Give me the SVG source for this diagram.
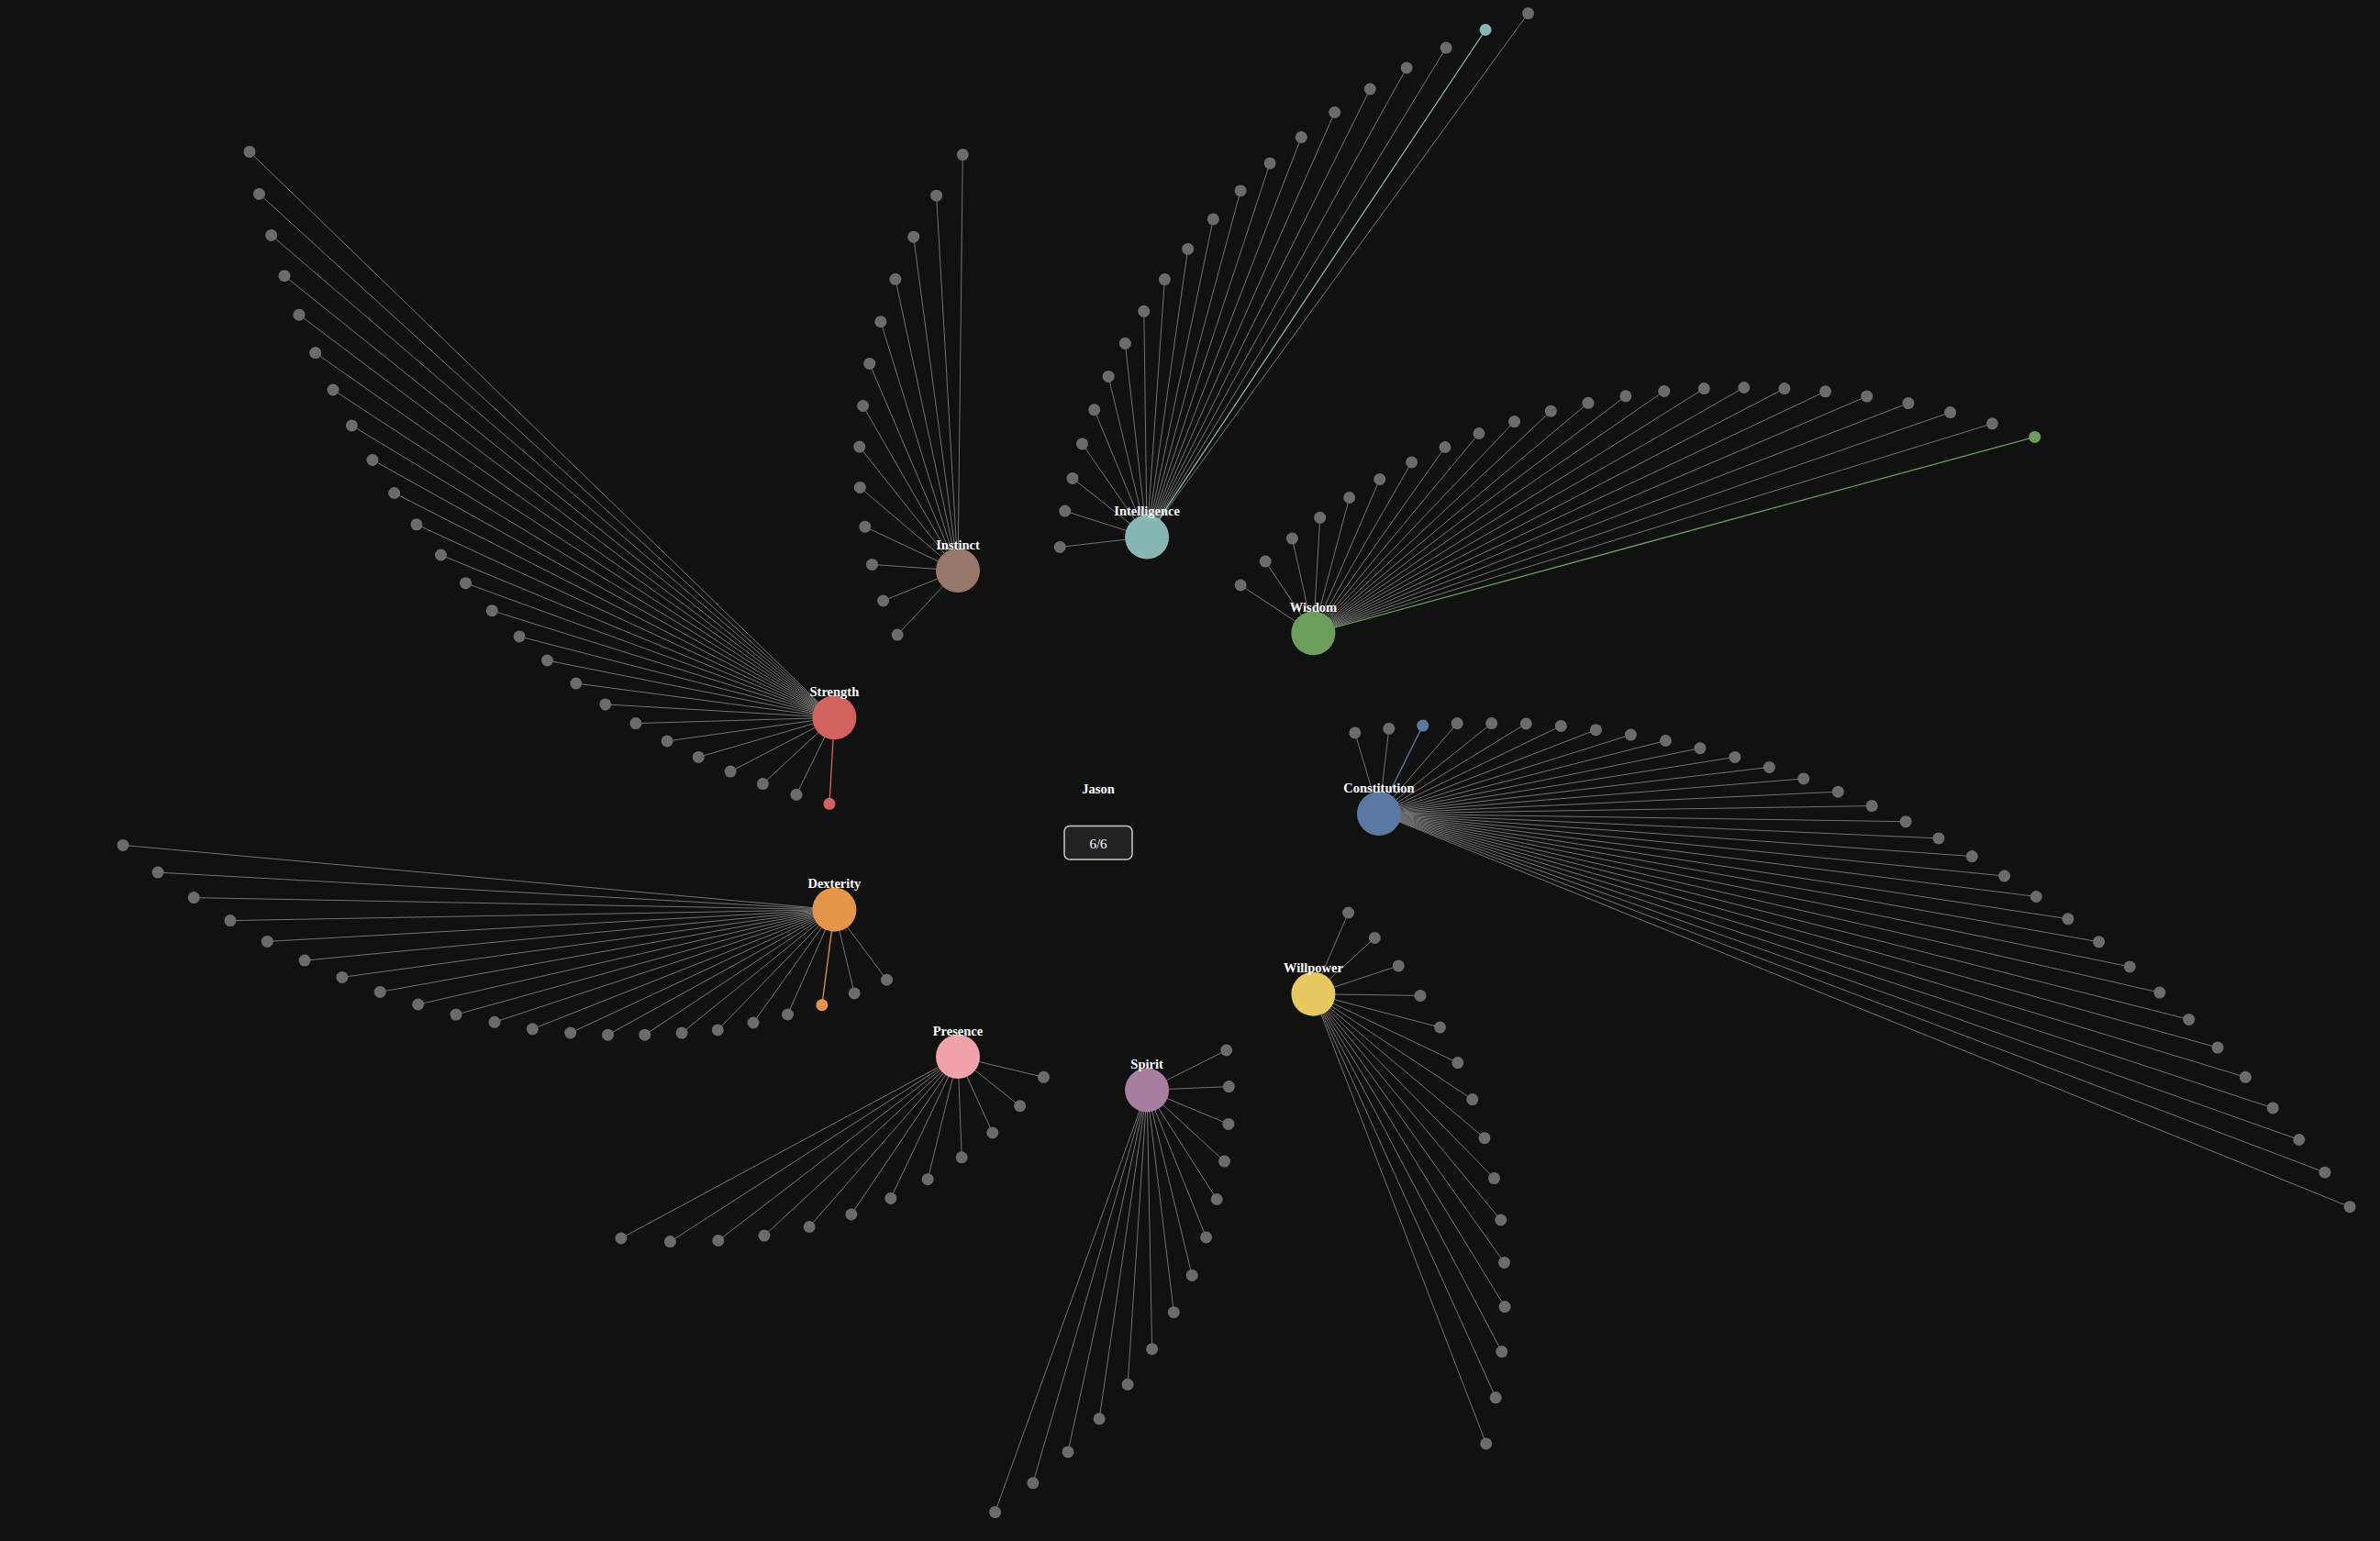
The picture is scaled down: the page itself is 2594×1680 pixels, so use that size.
<svg xmlns="http://www.w3.org/2000/svg" width="2594" height="1680" viewBox="0 0 2594 1680">
<style>
.bg{fill:#111111}
.e{stroke:#747474;stroke-width:1;fill:none}
.leaf{fill:#6b6b6b}
.lbl{font-family:"Liberation Serif","Times New Roman",serif;font-weight:bold;font-size:14.5px;fill:#ffffff;text-anchor:middle}
.cnt{font-family:"Liberation Serif","Times New Roman",serif;font-size:15px;fill:#ffffff;text-anchor:middle}
.box{fill:#222222;stroke:#c8c8c8;stroke-width:1.5}
</style>
<rect class="bg" x="0" y="0" width="2594" height="1680"/>
<g id="connectors">
<line class="e" x1="909.4" y1="782.3" x2="272.0" y2="165.4"/>
<line class="e" x1="909.4" y1="782.3" x2="282.5" y2="211.4"/>
<line class="e" x1="909.4" y1="782.3" x2="295.7" y2="256.4"/>
<line class="e" x1="909.4" y1="782.3" x2="310.0" y2="300.7"/>
<line class="e" x1="909.4" y1="782.3" x2="326.0" y2="343.2"/>
<line class="e" x1="909.4" y1="782.3" x2="343.7" y2="384.6"/>
<line class="e" x1="909.4" y1="782.3" x2="363.0" y2="425.0"/>
<line class="e" x1="909.4" y1="782.3" x2="383.4" y2="463.9"/>
<line class="e" x1="909.4" y1="782.3" x2="406.0" y2="501.4"/>
<line class="e" x1="909.4" y1="782.3" x2="429.7" y2="537.5"/>
<line class="e" x1="909.4" y1="782.3" x2="454.0" y2="571.8"/>
<line class="e" x1="909.4" y1="782.3" x2="480.5" y2="605.0"/>
<line class="e" x1="909.4" y1="782.3" x2="507.5" y2="635.7"/>
<line class="e" x1="909.4" y1="782.3" x2="536.2" y2="665.7"/>
<line class="e" x1="909.4" y1="782.3" x2="566.0" y2="693.9"/>
<line class="e" x1="909.4" y1="782.3" x2="596.4" y2="720.0"/>
<line class="e" x1="909.4" y1="782.3" x2="627.8" y2="745.0"/>
<line class="e" x1="909.4" y1="782.3" x2="659.8" y2="767.9"/>
<line class="e" x1="909.4" y1="782.3" x2="692.9" y2="788.6"/>
<line class="e" x1="909.4" y1="782.3" x2="727.1" y2="807.9"/>
<line class="e" x1="909.4" y1="782.3" x2="761.3" y2="825.4"/>
<line class="e" x1="909.4" y1="782.3" x2="796.1" y2="841.1"/>
<line class="e" x1="909.4" y1="782.3" x2="831.4" y2="854.6"/>
<line class="e" x1="909.4" y1="782.3" x2="868.0" y2="866.3"/>
<line class="e" style="stroke:#d3625f;stroke-width:1.3" x1="909.4" y1="782.3" x2="904.0" y2="876.3"/>
<line class="e" x1="1044" y1="622" x2="1049.3" y2="168.6"/>
<line class="e" x1="1044" y1="622" x2="1020.6" y2="213.2"/>
<line class="e" x1="1044" y1="622" x2="995.7" y2="258.2"/>
<line class="e" x1="1044" y1="622" x2="975.9" y2="304.3"/>
<line class="e" x1="1044" y1="622" x2="959.9" y2="350.7"/>
<line class="e" x1="1044" y1="622" x2="947.7" y2="396.4"/>
<line class="e" x1="1044" y1="622" x2="940.6" y2="442.5"/>
<line class="e" x1="1044" y1="622" x2="936.7" y2="487.1"/>
<line class="e" x1="1044" y1="622" x2="937.3" y2="531.4"/>
<line class="e" x1="1044" y1="622" x2="942.8" y2="574.3"/>
<line class="e" x1="1044" y1="622" x2="950.5" y2="615.4"/>
<line class="e" x1="1044" y1="622" x2="962.6" y2="655.0"/>
<line class="e" x1="1044" y1="622" x2="978.1" y2="692.1"/>
<line class="e" x1="1250.1" y1="585.6" x2="1665.5" y2="14.6"/>
<line class="e" style="stroke:#86b7b3;stroke-width:1.3" x1="1250.1" y1="585.6" x2="1619.1" y2="32.5"/>
<line class="e" x1="1250.1" y1="585.6" x2="1576.1" y2="52.1"/>
<line class="e" x1="1250.1" y1="585.6" x2="1533.1" y2="73.9"/>
<line class="e" x1="1250.1" y1="585.6" x2="1493.3" y2="97.1"/>
<line class="e" x1="1250.1" y1="585.6" x2="1454.7" y2="122.5"/>
<line class="e" x1="1250.1" y1="585.6" x2="1418.3" y2="149.6"/>
<line class="e" x1="1250.1" y1="585.6" x2="1384.1" y2="177.9"/>
<line class="e" x1="1250.1" y1="585.6" x2="1352.1" y2="207.9"/>
<line class="e" x1="1250.1" y1="585.6" x2="1322.3" y2="238.9"/>
<line class="e" x1="1250.1" y1="585.6" x2="1294.7" y2="271.4"/>
<line class="e" x1="1250.1" y1="585.6" x2="1269.4" y2="304.6"/>
<line class="e" x1="1250.1" y1="585.6" x2="1246.8" y2="339.3"/>
<line class="e" x1="1250.1" y1="585.6" x2="1226.3" y2="374.3"/>
<line class="e" x1="1250.1" y1="585.6" x2="1208.1" y2="410.4"/>
<line class="e" x1="1250.1" y1="585.6" x2="1192.7" y2="446.8"/>
<line class="e" x1="1250.1" y1="585.6" x2="1179.5" y2="483.9"/>
<line class="e" x1="1250.1" y1="585.6" x2="1169.0" y2="521.4"/>
<line class="e" x1="1250.1" y1="585.6" x2="1160.7" y2="557.1"/>
<line class="e" x1="1250.1" y1="585.6" x2="1155.2" y2="596.4"/>
<line class="e" x1="1431.4" y1="690.3" x2="1352.1" y2="637.9"/>
<line class="e" x1="1431.4" y1="690.3" x2="1379.2" y2="612.1"/>
<line class="e" x1="1431.4" y1="690.3" x2="1408.4" y2="587.1"/>
<line class="e" x1="1431.4" y1="690.3" x2="1438.7" y2="564.3"/>
<line class="e" x1="1431.4" y1="690.3" x2="1470.7" y2="542.5"/>
<line class="e" x1="1431.4" y1="690.3" x2="1503.8" y2="522.5"/>
<line class="e" x1="1431.4" y1="690.3" x2="1538.6" y2="503.9"/>
<line class="e" x1="1431.4" y1="690.3" x2="1575.0" y2="487.5"/>
<line class="e" x1="1431.4" y1="690.3" x2="1612.0" y2="472.5"/>
<line class="e" x1="1431.4" y1="690.3" x2="1650.6" y2="459.6"/>
<line class="e" x1="1431.4" y1="690.3" x2="1690.3" y2="448.2"/>
<line class="e" x1="1431.4" y1="690.3" x2="1731.0" y2="439.3"/>
<line class="e" x1="1431.4" y1="690.3" x2="1771.9" y2="431.8"/>
<line class="e" x1="1431.4" y1="690.3" x2="1813.8" y2="426.4"/>
<line class="e" x1="1431.4" y1="690.3" x2="1857.3" y2="423.6"/>
<line class="e" x1="1431.4" y1="690.3" x2="1900.8" y2="422.5"/>
<line class="e" x1="1431.4" y1="690.3" x2="1944.9" y2="423.6"/>
<line class="e" x1="1431.4" y1="690.3" x2="1989.5" y2="426.8"/>
<line class="e" x1="1431.4" y1="690.3" x2="2034.7" y2="432.1"/>
<line class="e" x1="1431.4" y1="690.3" x2="2079.9" y2="439.6"/>
<line class="e" x1="1431.4" y1="690.3" x2="2125.6" y2="449.6"/>
<line class="e" x1="1431.4" y1="690.3" x2="2171.4" y2="461.8"/>
<line class="e" style="stroke:#6a9e5a;stroke-width:1.3" x1="1431.4" y1="690.3" x2="2217.7" y2="476.4"/>
<line class="e" x1="1503" y1="887" x2="1476.8" y2="798.9"/>
<line class="e" x1="1503" y1="887" x2="1513.8" y2="794.3"/>
<line class="e" style="stroke:#5a78a2;stroke-width:1.3" x1="1503" y1="887" x2="1550.7" y2="791.1"/>
<line class="e" x1="1503" y1="887" x2="1588.2" y2="788.6"/>
<line class="e" x1="1503" y1="887" x2="1625.7" y2="788.6"/>
<line class="e" x1="1503" y1="887" x2="1663.3" y2="788.9"/>
<line class="e" x1="1503" y1="887" x2="1701.3" y2="791.4"/>
<line class="e" x1="1503" y1="887" x2="1739.4" y2="795.7"/>
<line class="e" x1="1503" y1="887" x2="1777.4" y2="801.1"/>
<line class="e" x1="1503" y1="887" x2="1815.4" y2="807.5"/>
<line class="e" x1="1503" y1="887" x2="1852.9" y2="815.7"/>
<line class="e" x1="1503" y1="887" x2="1890.9" y2="825.4"/>
<line class="e" x1="1503" y1="887" x2="1928.4" y2="836.4"/>
<line class="e" x1="1503" y1="887" x2="1965.8" y2="848.9"/>
<line class="e" x1="1503" y1="887" x2="2003.3" y2="863.2"/>
<line class="e" x1="1503" y1="887" x2="2040.2" y2="878.6"/>
<line class="e" x1="1503" y1="887" x2="2077.1" y2="895.7"/>
<line class="e" x1="1503" y1="887" x2="2113.0" y2="913.9"/>
<line class="e" x1="1503" y1="887" x2="2149.3" y2="933.6"/>
<line class="e" x1="1503" y1="887" x2="2184.6" y2="955.0"/>
<line class="e" x1="1503" y1="887" x2="2219.3" y2="977.5"/>
<line class="e" x1="1503" y1="887" x2="2254.0" y2="1001.8"/>
<line class="e" x1="1503" y1="887" x2="2287.6" y2="1026.8"/>
<line class="e" x1="1503" y1="887" x2="2321.3" y2="1053.9"/>
<line class="e" x1="1503" y1="887" x2="2353.8" y2="1082.1"/>
<line class="e" x1="1503" y1="887" x2="2385.7" y2="1111.4"/>
<line class="e" x1="1503" y1="887" x2="2417.1" y2="1142.1"/>
<line class="e" x1="1503" y1="887" x2="2447.4" y2="1174.3"/>
<line class="e" x1="1503" y1="887" x2="2477.2" y2="1207.9"/>
<line class="e" x1="1503" y1="887" x2="2505.8" y2="1242.5"/>
<line class="e" x1="1503" y1="887" x2="2534.0" y2="1278.2"/>
<line class="e" x1="1503" y1="887" x2="2561.0" y2="1315.7"/>
<line class="e" x1="909.4" y1="991.7" x2="134.1" y2="921.4"/>
<line class="e" x1="909.4" y1="991.7" x2="172.1" y2="951.1"/>
<line class="e" x1="909.4" y1="991.7" x2="211.3" y2="978.6"/>
<line class="e" x1="909.4" y1="991.7" x2="251.0" y2="1003.6"/>
<line class="e" x1="909.4" y1="991.7" x2="291.3" y2="1026.4"/>
<line class="e" x1="909.4" y1="991.7" x2="332.1" y2="1047.1"/>
<line class="e" x1="909.4" y1="991.7" x2="372.9" y2="1065.4"/>
<line class="e" x1="909.4" y1="991.7" x2="414.3" y2="1081.4"/>
<line class="e" x1="909.4" y1="991.7" x2="455.7" y2="1095.0"/>
<line class="e" x1="909.4" y1="991.7" x2="497.1" y2="1106.1"/>
<line class="e" x1="909.4" y1="991.7" x2="539.0" y2="1114.3"/>
<line class="e" x1="909.4" y1="991.7" x2="580.4" y2="1121.8"/>
<line class="e" x1="909.4" y1="991.7" x2="621.7" y2="1126.1"/>
<line class="e" x1="909.4" y1="991.7" x2="662.5" y2="1128.2"/>
<line class="e" x1="909.4" y1="991.7" x2="702.8" y2="1128.2"/>
<line class="e" x1="909.4" y1="991.7" x2="743.1" y2="1126.1"/>
<line class="e" x1="909.4" y1="991.7" x2="782.3" y2="1122.9"/>
<line class="e" x1="909.4" y1="991.7" x2="821.0" y2="1115.0"/>
<line class="e" x1="909.4" y1="991.7" x2="858.5" y2="1106.0"/>
<line class="e" style="stroke:#e5954a;stroke-width:1.3" x1="909.4" y1="991.7" x2="895.9" y2="1095.7"/>
<line class="e" x1="909.4" y1="991.7" x2="931.2" y2="1082.9"/>
<line class="e" x1="909.4" y1="991.7" x2="966.5" y2="1068.2"/>
<line class="e" x1="1044" y1="1152" x2="1137.5" y2="1174.3"/>
<line class="e" x1="1044" y1="1152" x2="1111.6" y2="1205.7"/>
<line class="e" x1="1044" y1="1152" x2="1081.8" y2="1235.0"/>
<line class="e" x1="1044" y1="1152" x2="1048.2" y2="1261.8"/>
<line class="e" x1="1044" y1="1152" x2="1011.2" y2="1285.7"/>
<line class="e" x1="1044" y1="1152" x2="970.9" y2="1306.4"/>
<line class="e" x1="1044" y1="1152" x2="927.9" y2="1323.9"/>
<line class="e" x1="1044" y1="1152" x2="882.1" y2="1337.5"/>
<line class="e" x1="1044" y1="1152" x2="833.0" y2="1347.1"/>
<line class="e" x1="1044" y1="1152" x2="782.8" y2="1352.5"/>
<line class="e" x1="1044" y1="1152" x2="730.4" y2="1353.6"/>
<line class="e" x1="1044" y1="1152" x2="676.9" y2="1350.0"/>
<line class="e" x1="1250.1" y1="1188.4" x2="1336.7" y2="1145.0"/>
<line class="e" x1="1250.1" y1="1188.4" x2="1339.4" y2="1184.6"/>
<line class="e" x1="1250.1" y1="1188.4" x2="1338.9" y2="1225.4"/>
<line class="e" x1="1250.1" y1="1188.4" x2="1334.5" y2="1266.1"/>
<line class="e" x1="1250.1" y1="1188.4" x2="1326.2" y2="1307.5"/>
<line class="e" x1="1250.1" y1="1188.4" x2="1314.6" y2="1348.9"/>
<line class="e" x1="1250.1" y1="1188.4" x2="1299.2" y2="1390.4"/>
<line class="e" x1="1250.1" y1="1188.4" x2="1279.3" y2="1430.7"/>
<line class="e" x1="1250.1" y1="1188.4" x2="1255.6" y2="1470.7"/>
<line class="e" x1="1250.1" y1="1188.4" x2="1229.1" y2="1509.3"/>
<line class="e" x1="1250.1" y1="1188.4" x2="1198.2" y2="1546.8"/>
<line class="e" x1="1250.1" y1="1188.4" x2="1164.0" y2="1582.9"/>
<line class="e" x1="1250.1" y1="1188.4" x2="1125.9" y2="1616.8"/>
<line class="e" x1="1250.1" y1="1188.4" x2="1084.6" y2="1648.6"/>
<line class="e" x1="1431.4" y1="1083.7" x2="1469.6" y2="995.0"/>
<line class="e" x1="1431.4" y1="1083.7" x2="1498.3" y2="1022.5"/>
<line class="e" x1="1431.4" y1="1083.7" x2="1524.2" y2="1052.9"/>
<line class="e" x1="1431.4" y1="1083.7" x2="1548.0" y2="1085.4"/>
<line class="e" x1="1431.4" y1="1083.7" x2="1569.5" y2="1120.0"/>
<line class="e" x1="1431.4" y1="1083.7" x2="1588.8" y2="1158.6"/>
<line class="e" x1="1431.4" y1="1083.7" x2="1604.8" y2="1198.6"/>
<line class="e" x1="1431.4" y1="1083.7" x2="1618.0" y2="1240.7"/>
<line class="e" x1="1431.4" y1="1083.7" x2="1628.5" y2="1284.6"/>
<line class="e" x1="1431.4" y1="1083.7" x2="1635.7" y2="1330.0"/>
<line class="e" x1="1431.4" y1="1083.7" x2="1639.5" y2="1376.4"/>
<line class="e" x1="1431.4" y1="1083.7" x2="1640.1" y2="1424.6"/>
<line class="e" x1="1431.4" y1="1083.7" x2="1636.8" y2="1473.6"/>
<line class="e" x1="1431.4" y1="1083.7" x2="1630.2" y2="1523.6"/>
<line class="e" x1="1431.4" y1="1083.7" x2="1619.7" y2="1573.9"/>
</g>
<g id="leaves">
<g id="strength-leaves">
<g id="str-1"><circle class="leaf" cx="272.0" cy="165.4" r="6.5"/></g>
<g id="str-2"><circle class="leaf" cx="282.5" cy="211.4" r="6.5"/></g>
<g id="str-3"><circle class="leaf" cx="295.7" cy="256.4" r="6.5"/></g>
<g id="str-4"><circle class="leaf" cx="310.0" cy="300.7" r="6.5"/></g>
<g id="str-5"><circle class="leaf" cx="326.0" cy="343.2" r="6.5"/></g>
<g id="str-6"><circle class="leaf" cx="343.7" cy="384.6" r="6.5"/></g>
<g id="str-7"><circle class="leaf" cx="363.0" cy="425.0" r="6.5"/></g>
<g id="str-8"><circle class="leaf" cx="383.4" cy="463.9" r="6.5"/></g>
<g id="str-9"><circle class="leaf" cx="406.0" cy="501.4" r="6.5"/></g>
<g id="str-10"><circle class="leaf" cx="429.7" cy="537.5" r="6.5"/></g>
<g id="str-11"><circle class="leaf" cx="454.0" cy="571.8" r="6.5"/></g>
<g id="str-12"><circle class="leaf" cx="480.5" cy="605.0" r="6.5"/></g>
<g id="str-13"><circle class="leaf" cx="507.5" cy="635.7" r="6.5"/></g>
<g id="str-14"><circle class="leaf" cx="536.2" cy="665.7" r="6.5"/></g>
<g id="str-15"><circle class="leaf" cx="566.0" cy="693.9" r="6.5"/></g>
<g id="str-16"><circle class="leaf" cx="596.4" cy="720.0" r="6.5"/></g>
<g id="str-17"><circle class="leaf" cx="627.8" cy="745.0" r="6.5"/></g>
<g id="str-18"><circle class="leaf" cx="659.8" cy="767.9" r="6.5"/></g>
<g id="str-19"><circle class="leaf" cx="692.9" cy="788.6" r="6.5"/></g>
<g id="str-20"><circle class="leaf" cx="727.1" cy="807.9" r="6.5"/></g>
<g id="str-21"><circle class="leaf" cx="761.3" cy="825.4" r="6.5"/></g>
<g id="str-22"><circle class="leaf" cx="796.1" cy="841.1" r="6.5"/></g>
<g id="str-23"><circle class="leaf" cx="831.4" cy="854.6" r="6.5"/></g>
<g id="str-24"><circle class="leaf" cx="868.0" cy="866.3" r="6.5"/></g>
<g id="str-25"><circle cx="904.0" cy="876.3" r="6.5" fill="#d3625f"/></g>
</g>
<g id="instinct-leaves">
<g id="ins-1"><circle class="leaf" cx="1049.3" cy="168.6" r="6.5"/></g>
<g id="ins-2"><circle class="leaf" cx="1020.6" cy="213.2" r="6.5"/></g>
<g id="ins-3"><circle class="leaf" cx="995.7" cy="258.2" r="6.5"/></g>
<g id="ins-4"><circle class="leaf" cx="975.9" cy="304.3" r="6.5"/></g>
<g id="ins-5"><circle class="leaf" cx="959.9" cy="350.7" r="6.5"/></g>
<g id="ins-6"><circle class="leaf" cx="947.7" cy="396.4" r="6.5"/></g>
<g id="ins-7"><circle class="leaf" cx="940.6" cy="442.5" r="6.5"/></g>
<g id="ins-8"><circle class="leaf" cx="936.7" cy="487.1" r="6.5"/></g>
<g id="ins-9"><circle class="leaf" cx="937.3" cy="531.4" r="6.5"/></g>
<g id="ins-10"><circle class="leaf" cx="942.8" cy="574.3" r="6.5"/></g>
<g id="ins-11"><circle class="leaf" cx="950.5" cy="615.4" r="6.5"/></g>
<g id="ins-12"><circle class="leaf" cx="962.6" cy="655.0" r="6.5"/></g>
<g id="ins-13"><circle class="leaf" cx="978.1" cy="692.1" r="6.5"/></g>
</g>
<g id="intelligence-leaves">
<g id="int-1"><circle class="leaf" cx="1665.5" cy="14.6" r="6.5"/></g>
<g id="int-2"><circle cx="1619.1" cy="32.5" r="6.5" fill="#86b7b3"/></g>
<g id="int-3"><circle class="leaf" cx="1576.1" cy="52.1" r="6.5"/></g>
<g id="int-4"><circle class="leaf" cx="1533.1" cy="73.9" r="6.5"/></g>
<g id="int-5"><circle class="leaf" cx="1493.3" cy="97.1" r="6.5"/></g>
<g id="int-6"><circle class="leaf" cx="1454.7" cy="122.5" r="6.5"/></g>
<g id="int-7"><circle class="leaf" cx="1418.3" cy="149.6" r="6.5"/></g>
<g id="int-8"><circle class="leaf" cx="1384.1" cy="177.9" r="6.5"/></g>
<g id="int-9"><circle class="leaf" cx="1352.1" cy="207.9" r="6.5"/></g>
<g id="int-10"><circle class="leaf" cx="1322.3" cy="238.9" r="6.5"/></g>
<g id="int-11"><circle class="leaf" cx="1294.7" cy="271.4" r="6.5"/></g>
<g id="int-12"><circle class="leaf" cx="1269.4" cy="304.6" r="6.5"/></g>
<g id="int-13"><circle class="leaf" cx="1246.8" cy="339.3" r="6.5"/></g>
<g id="int-14"><circle class="leaf" cx="1226.3" cy="374.3" r="6.5"/></g>
<g id="int-15"><circle class="leaf" cx="1208.1" cy="410.4" r="6.5"/></g>
<g id="int-16"><circle class="leaf" cx="1192.7" cy="446.8" r="6.5"/></g>
<g id="int-17"><circle class="leaf" cx="1179.5" cy="483.9" r="6.5"/></g>
<g id="int-18"><circle class="leaf" cx="1169.0" cy="521.4" r="6.5"/></g>
<g id="int-19"><circle class="leaf" cx="1160.7" cy="557.1" r="6.5"/></g>
<g id="int-20"><circle class="leaf" cx="1155.2" cy="596.4" r="6.5"/></g>
</g>
<g id="wisdom-leaves">
<g id="wis-1"><circle class="leaf" cx="1352.1" cy="637.9" r="6.5"/></g>
<g id="wis-2"><circle class="leaf" cx="1379.2" cy="612.1" r="6.5"/></g>
<g id="wis-3"><circle class="leaf" cx="1408.4" cy="587.1" r="6.5"/></g>
<g id="wis-4"><circle class="leaf" cx="1438.7" cy="564.3" r="6.5"/></g>
<g id="wis-5"><circle class="leaf" cx="1470.7" cy="542.5" r="6.5"/></g>
<g id="wis-6"><circle class="leaf" cx="1503.8" cy="522.5" r="6.5"/></g>
<g id="wis-7"><circle class="leaf" cx="1538.6" cy="503.9" r="6.5"/></g>
<g id="wis-8"><circle class="leaf" cx="1575.0" cy="487.5" r="6.5"/></g>
<g id="wis-9"><circle class="leaf" cx="1612.0" cy="472.5" r="6.5"/></g>
<g id="wis-10"><circle class="leaf" cx="1650.6" cy="459.6" r="6.5"/></g>
<g id="wis-11"><circle class="leaf" cx="1690.3" cy="448.2" r="6.5"/></g>
<g id="wis-12"><circle class="leaf" cx="1731.0" cy="439.3" r="6.5"/></g>
<g id="wis-13"><circle class="leaf" cx="1771.9" cy="431.8" r="6.5"/></g>
<g id="wis-14"><circle class="leaf" cx="1813.8" cy="426.4" r="6.5"/></g>
<g id="wis-15"><circle class="leaf" cx="1857.3" cy="423.6" r="6.5"/></g>
<g id="wis-16"><circle class="leaf" cx="1900.8" cy="422.5" r="6.5"/></g>
<g id="wis-17"><circle class="leaf" cx="1944.9" cy="423.6" r="6.5"/></g>
<g id="wis-18"><circle class="leaf" cx="1989.5" cy="426.8" r="6.5"/></g>
<g id="wis-19"><circle class="leaf" cx="2034.7" cy="432.1" r="6.5"/></g>
<g id="wis-20"><circle class="leaf" cx="2079.9" cy="439.6" r="6.5"/></g>
<g id="wis-21"><circle class="leaf" cx="2125.6" cy="449.6" r="6.5"/></g>
<g id="wis-22"><circle class="leaf" cx="2171.4" cy="461.8" r="6.5"/></g>
<g id="wis-23"><circle cx="2217.7" cy="476.4" r="6.5" fill="#6a9e5a"/></g>
</g>
<g id="constitution-leaves">
<g id="con-1"><circle class="leaf" cx="1476.8" cy="798.9" r="6.5"/></g>
<g id="con-2"><circle class="leaf" cx="1513.8" cy="794.3" r="6.5"/></g>
<g id="con-3"><circle cx="1550.7" cy="791.1" r="6.5" fill="#5a78a2"/></g>
<g id="con-4"><circle class="leaf" cx="1588.2" cy="788.6" r="6.5"/></g>
<g id="con-5"><circle class="leaf" cx="1625.7" cy="788.6" r="6.5"/></g>
<g id="con-6"><circle class="leaf" cx="1663.3" cy="788.9" r="6.5"/></g>
<g id="con-7"><circle class="leaf" cx="1701.3" cy="791.4" r="6.5"/></g>
<g id="con-8"><circle class="leaf" cx="1739.4" cy="795.7" r="6.5"/></g>
<g id="con-9"><circle class="leaf" cx="1777.4" cy="801.1" r="6.5"/></g>
<g id="con-10"><circle class="leaf" cx="1815.4" cy="807.5" r="6.5"/></g>
<g id="con-11"><circle class="leaf" cx="1852.9" cy="815.7" r="6.5"/></g>
<g id="con-12"><circle class="leaf" cx="1890.9" cy="825.4" r="6.5"/></g>
<g id="con-13"><circle class="leaf" cx="1928.4" cy="836.4" r="6.5"/></g>
<g id="con-14"><circle class="leaf" cx="1965.8" cy="848.9" r="6.5"/></g>
<g id="con-15"><circle class="leaf" cx="2003.3" cy="863.2" r="6.5"/></g>
<g id="con-16"><circle class="leaf" cx="2040.2" cy="878.6" r="6.5"/></g>
<g id="con-17"><circle class="leaf" cx="2077.1" cy="895.7" r="6.5"/></g>
<g id="con-18"><circle class="leaf" cx="2113.0" cy="913.9" r="6.5"/></g>
<g id="con-19"><circle class="leaf" cx="2149.3" cy="933.6" r="6.5"/></g>
<g id="con-20"><circle class="leaf" cx="2184.6" cy="955.0" r="6.5"/></g>
<g id="con-21"><circle class="leaf" cx="2219.3" cy="977.5" r="6.5"/></g>
<g id="con-22"><circle class="leaf" cx="2254.0" cy="1001.8" r="6.5"/></g>
<g id="con-23"><circle class="leaf" cx="2287.6" cy="1026.8" r="6.5"/></g>
<g id="con-24"><circle class="leaf" cx="2321.3" cy="1053.9" r="6.5"/></g>
<g id="con-25"><circle class="leaf" cx="2353.8" cy="1082.1" r="6.5"/></g>
<g id="con-26"><circle class="leaf" cx="2385.7" cy="1111.4" r="6.5"/></g>
<g id="con-27"><circle class="leaf" cx="2417.1" cy="1142.1" r="6.5"/></g>
<g id="con-28"><circle class="leaf" cx="2447.4" cy="1174.3" r="6.5"/></g>
<g id="con-29"><circle class="leaf" cx="2477.2" cy="1207.9" r="6.5"/></g>
<g id="con-30"><circle class="leaf" cx="2505.8" cy="1242.5" r="6.5"/></g>
<g id="con-31"><circle class="leaf" cx="2534.0" cy="1278.2" r="6.5"/></g>
<g id="con-32"><circle class="leaf" cx="2561.0" cy="1315.7" r="6.5"/></g>
</g>
<g id="dexterity-leaves">
<g id="dex-1"><circle class="leaf" cx="134.1" cy="921.4" r="6.5"/></g>
<g id="dex-2"><circle class="leaf" cx="172.1" cy="951.1" r="6.5"/></g>
<g id="dex-3"><circle class="leaf" cx="211.3" cy="978.6" r="6.5"/></g>
<g id="dex-4"><circle class="leaf" cx="251.0" cy="1003.6" r="6.5"/></g>
<g id="dex-5"><circle class="leaf" cx="291.3" cy="1026.4" r="6.5"/></g>
<g id="dex-6"><circle class="leaf" cx="332.1" cy="1047.1" r="6.5"/></g>
<g id="dex-7"><circle class="leaf" cx="372.9" cy="1065.4" r="6.5"/></g>
<g id="dex-8"><circle class="leaf" cx="414.3" cy="1081.4" r="6.5"/></g>
<g id="dex-9"><circle class="leaf" cx="455.7" cy="1095.0" r="6.5"/></g>
<g id="dex-10"><circle class="leaf" cx="497.1" cy="1106.1" r="6.5"/></g>
<g id="dex-11"><circle class="leaf" cx="539.0" cy="1114.3" r="6.5"/></g>
<g id="dex-12"><circle class="leaf" cx="580.4" cy="1121.8" r="6.5"/></g>
<g id="dex-13"><circle class="leaf" cx="621.7" cy="1126.1" r="6.5"/></g>
<g id="dex-14"><circle class="leaf" cx="662.5" cy="1128.2" r="6.5"/></g>
<g id="dex-15"><circle class="leaf" cx="702.8" cy="1128.2" r="6.5"/></g>
<g id="dex-16"><circle class="leaf" cx="743.1" cy="1126.1" r="6.5"/></g>
<g id="dex-17"><circle class="leaf" cx="782.3" cy="1122.9" r="6.5"/></g>
<g id="dex-18"><circle class="leaf" cx="821.0" cy="1115.0" r="6.5"/></g>
<g id="dex-19"><circle class="leaf" cx="858.5" cy="1106.0" r="6.5"/></g>
<g id="dex-20"><circle cx="895.9" cy="1095.7" r="6.5" fill="#e5954a"/></g>
<g id="dex-21"><circle class="leaf" cx="931.2" cy="1082.9" r="6.5"/></g>
<g id="dex-22"><circle class="leaf" cx="966.5" cy="1068.2" r="6.5"/></g>
</g>
<g id="presence-leaves">
<g id="pre-1"><circle class="leaf" cx="1137.5" cy="1174.3" r="6.5"/></g>
<g id="pre-2"><circle class="leaf" cx="1111.6" cy="1205.7" r="6.5"/></g>
<g id="pre-3"><circle class="leaf" cx="1081.8" cy="1235.0" r="6.5"/></g>
<g id="pre-4"><circle class="leaf" cx="1048.2" cy="1261.8" r="6.5"/></g>
<g id="pre-5"><circle class="leaf" cx="1011.2" cy="1285.7" r="6.5"/></g>
<g id="pre-6"><circle class="leaf" cx="970.9" cy="1306.4" r="6.5"/></g>
<g id="pre-7"><circle class="leaf" cx="927.9" cy="1323.9" r="6.5"/></g>
<g id="pre-8"><circle class="leaf" cx="882.1" cy="1337.5" r="6.5"/></g>
<g id="pre-9"><circle class="leaf" cx="833.0" cy="1347.1" r="6.5"/></g>
<g id="pre-10"><circle class="leaf" cx="782.8" cy="1352.5" r="6.5"/></g>
<g id="pre-11"><circle class="leaf" cx="730.4" cy="1353.6" r="6.5"/></g>
<g id="pre-12"><circle class="leaf" cx="676.9" cy="1350.0" r="6.5"/></g>
</g>
<g id="spirit-leaves">
<g id="spi-1"><circle class="leaf" cx="1336.7" cy="1145.0" r="6.5"/></g>
<g id="spi-2"><circle class="leaf" cx="1339.4" cy="1184.6" r="6.5"/></g>
<g id="spi-3"><circle class="leaf" cx="1338.9" cy="1225.4" r="6.5"/></g>
<g id="spi-4"><circle class="leaf" cx="1334.5" cy="1266.1" r="6.5"/></g>
<g id="spi-5"><circle class="leaf" cx="1326.2" cy="1307.5" r="6.5"/></g>
<g id="spi-6"><circle class="leaf" cx="1314.6" cy="1348.9" r="6.5"/></g>
<g id="spi-7"><circle class="leaf" cx="1299.2" cy="1390.4" r="6.5"/></g>
<g id="spi-8"><circle class="leaf" cx="1279.3" cy="1430.7" r="6.5"/></g>
<g id="spi-9"><circle class="leaf" cx="1255.6" cy="1470.7" r="6.5"/></g>
<g id="spi-10"><circle class="leaf" cx="1229.1" cy="1509.3" r="6.5"/></g>
<g id="spi-11"><circle class="leaf" cx="1198.2" cy="1546.8" r="6.5"/></g>
<g id="spi-12"><circle class="leaf" cx="1164.0" cy="1582.9" r="6.5"/></g>
<g id="spi-13"><circle class="leaf" cx="1125.9" cy="1616.8" r="6.5"/></g>
<g id="spi-14"><circle class="leaf" cx="1084.6" cy="1648.6" r="6.5"/></g>
</g>
<g id="willpower-leaves">
<g id="wil-1"><circle class="leaf" cx="1469.6" cy="995.0" r="6.5"/></g>
<g id="wil-2"><circle class="leaf" cx="1498.3" cy="1022.5" r="6.5"/></g>
<g id="wil-3"><circle class="leaf" cx="1524.2" cy="1052.9" r="6.5"/></g>
<g id="wil-4"><circle class="leaf" cx="1548.0" cy="1085.4" r="6.5"/></g>
<g id="wil-5"><circle class="leaf" cx="1569.5" cy="1120.0" r="6.5"/></g>
<g id="wil-6"><circle class="leaf" cx="1588.8" cy="1158.6" r="6.5"/></g>
<g id="wil-7"><circle class="leaf" cx="1604.8" cy="1198.6" r="6.5"/></g>
<g id="wil-8"><circle class="leaf" cx="1618.0" cy="1240.7" r="6.5"/></g>
<g id="wil-9"><circle class="leaf" cx="1628.5" cy="1284.6" r="6.5"/></g>
<g id="wil-10"><circle class="leaf" cx="1635.7" cy="1330.0" r="6.5"/></g>
<g id="wil-11"><circle class="leaf" cx="1639.5" cy="1376.4" r="6.5"/></g>
<g id="wil-12"><circle class="leaf" cx="1640.1" cy="1424.6" r="6.5"/></g>
<g id="wil-13"><circle class="leaf" cx="1636.8" cy="1473.6" r="6.5"/></g>
<g id="wil-14"><circle class="leaf" cx="1630.2" cy="1523.6" r="6.5"/></g>
<g id="wil-15"><circle class="leaf" cx="1619.7" cy="1573.9" r="6.5"/></g>
</g>
</g>
<g id="center">
<text class="lbl" x="1197" y="864.5">Jason</text>
<rect class="box" x="1160" y="900.5" width="74" height="36.5" rx="6"/>
<text class="cnt" x="1197" y="924.5">6/6</text>
</g>
<g id="constitution"><circle cx="1503" cy="887" r="24" fill="#5a78a2"/><text class="lbl" x="1503" y="863.5">Constitution</text></g>
<g id="wisdom"><circle cx="1431.4" cy="690.3" r="24" fill="#6a9e5a"/><text class="lbl" x="1431.4" y="666.8">Wisdom</text></g>
<g id="intelligence"><circle cx="1250.1" cy="585.6" r="24" fill="#86b7b3"/><text class="lbl" x="1250.1" y="562.1">Intelligence</text></g>
<g id="instinct"><circle cx="1044" cy="622" r="24" fill="#98786a"/><text class="lbl" x="1044" y="598.5">Instinct</text></g>
<g id="strength"><circle cx="909.4" cy="782.3" r="24" fill="#d3625f"/><text class="lbl" x="909.4" y="758.8">Strength</text></g>
<g id="dexterity"><circle cx="909.4" cy="991.7" r="24" fill="#e5954a"/><text class="lbl" x="909.4" y="968.2">Dexterity</text></g>
<g id="presence"><circle cx="1044" cy="1152" r="24" fill="#f0a2a8"/><text class="lbl" x="1044" y="1128.5">Presence</text></g>
<g id="spirit"><circle cx="1250.1" cy="1188.4" r="24" fill="#a87ea0"/><text class="lbl" x="1250.1" y="1164.9">Spirit</text></g>
<g id="willpower"><circle cx="1431.4" cy="1083.7" r="24" fill="#e6c961"/><text class="lbl" x="1431.4" y="1060.2">Willpower</text></g>
</svg>
